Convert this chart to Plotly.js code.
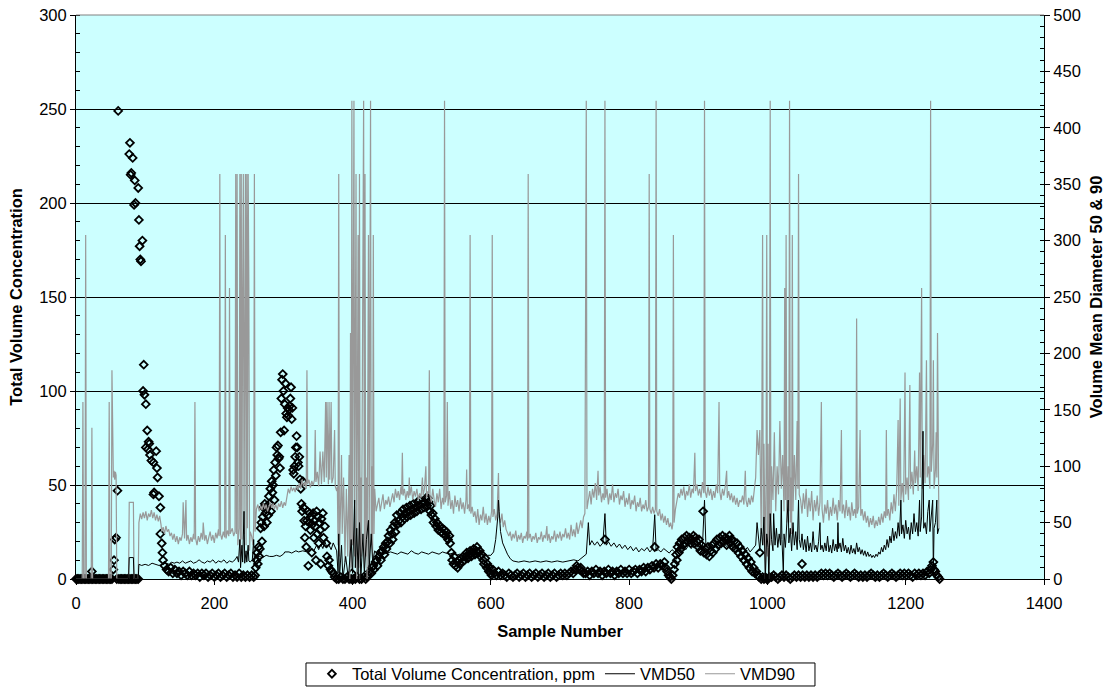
<!DOCTYPE html>
<html>
<head>
<meta charset="utf-8">
<script src="https://cdn.plot.ly/plotly-3.0.1.min.js"></script>
<style>html,body{margin:0;padding:0;background:#fff;}#chart{width:1111px;height:687px;}</style>
</head>
<body>
<div id="chart"></div>
<script>
// ---- Data ----
// Total Volume Concentration, ppm (left axis): [sample number, ppm]
const tvcPoints = [
[0,0],[2,0],[4,0],[6,0],[8,0],[10,0],[12,0],[14,0],[16,0],[18,0],[20,0],[22,0],[23,4],[24,0],[26,0],[28,0],[30,0],[32,0],[34,0],[36,0],[38,0],[40,0],[42,0],[44,0],[46,0],[48,0],[50,0],[52,0],[54,5],[55,10],[56,21],[58,22],[59,0],[60,47],[61,249],[62,0],[64,0],[66,0],[68,0],[70,0],[72,0],[74,0],[76,0],[78,0],[80,0],[82,0],[84,0],[86,0],[88,0],[90,0],
[77,226],[78,232],[79,215],[80,216],[82,224],[84,199],[85,212],[86,200],[90,208],[91,191],[92,177],[93,170],[94,169],[96,180],[97,100],[98,114],[99,98],[101,93],[101,70],[103,79],[104,69],[105,73],[106,72],[107,66],[109,63],[112,62],[113,46],[112,45],[116,68],[117,59],[118,54],[120,44],[122,38],[122,24],[124,19],[125,14],[126,10],
[128,7],[131,5],[134,4],[137,6],[140,3],[143,5],[146,3],[149,4],[152,2],[155,4],[158,3],[161,2],[164,4],[167,2],[170,3],[173,2],[176,3],[179,1],[182,3],[185,2],[188,3],[191,1],[194,2],[197,3],[200,1],[203,2],[206,3],[209,1],[212,2],[215,3],[218,1],[221,2],[224,3],[227,1],[230,2],[233,1],[236,3],[239,1],[242,2],[245,1],[248,2],[251,1],[254,2],[257,1],
[259,2],[260,6],[261,10],[262,14],[263,8],[264,17],[265,12],[266,16],[267,27],[268,30],[269,20],[270,33],[271,38],[272,28],[273,40],[274,35],[275,37],[276,30],[277,39],[278,34],[279,44],[280,40],[281,48],[282,36],[283,52],[284,46],[285,50],[286,58],[287,42],[288,62],[289,55],[290,70],[291,66],[292,71],[293,64],[294,65],[295,59],[296,78],[297,96],[298,106],[299,109],[300,100],[301,79],[302,93],[303,104],[304,88],[305,86],[306,91],[307,87],[308,90],[309,92],[310,96],[311,102],[312,85],[313,91],[314,58],[315,56],[316,60],[317,65],[318,70],[319,76],[320,70],[321,62],[322,60],[323,65],[324,53],[325,48],[326,40],[327,36],[328,52],[329,38],[330,31],[331,22],[332,28],[333,17],[334,31],[335,36],[336,7],[337,30],[338,35],[339,26],[340,33],[341,14],[342,29],[343,35],[344,22],[345,31],[346,28],[347,10],[348,36],[349,24],[350,33],[351,19],[352,30],[353,26],[354,8],[355,32],[357,35],[358,22],[360,28],[362,19],[363,12],[365,7],[366,10],[368,5],[370,4],[372,3],
[374,1],[377,0],[380,0],[383,1],[386,0],[389,0],[392,1],[395,0],[398,0],[399,3],[401,0],[404,0],[407,1],[410,0],[413,0],[416,1],[419,0],[421,1],
[423,2],[425,4],[427,3],[428,6],[430,7],[431,5],[433,9],[435,10],[436,7],[438,12],[440,14],[441,10],[443,15],[445,17],[446,13],[448,19],[449,16],[451,20],[452,23],[454,19],[455,26],[457,24],[458,21],[459,28],[461,30],[462,25],[464,34],[465,29],[467,31],[469,35],[470,30],[472,33],[473,37],[475,32],[476,35],[478,38],[479,33],[481,36],[483,39],[484,34],[486,37],[488,40],[489,35],[491,38],[493,36],[494,41],[496,39],[497,42],[499,37],[501,40],[503,38],[504,41],[506,43],[508,39],[509,43],[510,41],[512,36],[513,39],[514,34],[516,35],[517,30],[519,32],[521,28],[522,30],[524,26],[526,28],[528,25],[530,27],[531,24],[533,26],[535,23],[536,25],[538,21],[540,23],[541,19],[543,14],[544,10],[546,8],[547,12],[549,7],[551,9],[552,6],[554,10],[555,8],[557,11],[559,9],[560,12],[562,10],[564,12],[565,14],[567,11],[569,13],[570,15],[572,12],[574,14],[575,16],[577,13],[579,15],[580,17],[582,14],[584,15],[585,12],[587,13],[589,10],[590,8],[592,11],[594,6],[595,8],[597,4],[598,6],[600,3],[601,2],[603,5],
[605,3],[608,2],[611,4],[614,2],[617,3],[620,2],[623,1],[626,3],[629,2],[632,1],[635,2],[638,3],[641,1],[644,2],[647,3],[650,1],[653,2],[656,3],[659,1],[662,2],[665,3],[668,1],[671,2],[674,3],[677,1],[680,2],[683,3],[686,1],[689,2],[692,3],[695,1],[698,2],[701,3],[704,2],[707,3],[710,2],[713,3],[716,4],[719,3],[722,5],[724,7],[726,6],[728,5],[730,6],[732,4],[734,3],
[737,3],[740,4],[743,2],[746,4],[749,3],[752,5],[755,3],[758,4],[761,2],[764,4],[765,21],[767,3],[770,5],[773,3],[776,4],[779,2],[782,4],[785,3],[788,5],[791,3],[794,4],[797,3],[800,5],[803,3],[806,4],[809,5],[812,3],[815,5],[818,4],[821,6],[824,4],[827,6],[830,5],[833,7],[836,6],[837,17],[839,8],[842,6],[845,8],[848,7],[851,9],[853,6],[855,4],[857,2],[859,1],[861,0],[863,2],
[865,5],[866,8],[868,13],[869,10],[870,17],[872,14],[873,19],[875,16],[876,21],[878,18],[880,22],[881,19],[883,23],[885,20],[887,22],[889,19],[891,21],[893,23],[894,19],[896,22],[898,20],[900,17],[901,21],[903,15],[905,18],[907,36],[908,14],[910,16],[912,13],[914,17],[916,12],[918,15],[920,18],[921,14],[923,19],[925,16],[927,21],[929,18],[931,22],[933,19],[935,23],[937,20],[939,22],[941,18],[943,21],[945,23],[946,19],[948,21],[950,17],[952,20],[954,16],[956,19],[958,14],[960,17],[962,12],[964,15],[966,10],[968,13],[970,8],[972,11],[974,6],[976,9],[978,4],[980,6],[982,3],[984,4],[986,2],[988,1],[989,14],[991,0],[993,1],[995,0],[997,1],[999,0],[1001,0],[1003,1],
[1006,1],[1009,2],[1012,1],[1015,0],[1018,1],[1021,2],[1024,1],[1027,2],[1030,1],[1033,0],[1036,1],[1039,2],[1042,1],[1045,2],[1048,1],[1050,8],[1051,2],[1054,1],[1057,2],[1060,1],[1063,2],[1066,1],[1069,2],[1072,1],[1075,2],[1078,3],[1081,2],[1084,3],[1087,2],[1090,3],[1093,2],[1096,1],[1099,2],[1102,3],[1105,2],[1108,1],[1111,2],[1114,3],[1117,2],[1120,1],[1123,2],[1126,3],[1129,2],[1132,1],[1135,2],[1138,1],[1141,2],[1144,1],[1147,2],[1150,3],[1153,2],[1156,1],[1159,2],[1162,1],[1165,2],[1168,3],[1171,2],[1174,1],[1177,2],[1180,3],[1183,2],[1186,1],[1189,2],[1192,3],[1195,2],[1198,3],[1201,2],[1204,3],[1207,2],[1210,1],[1213,3],[1216,2],[1219,3],[1222,2],[1225,3],[1228,2],[1231,4],[1234,3],[1236,5],[1238,7],[1240,9],[1241,5],[1243,4],[1245,2],[1247,1],[1249,0]
];

// VMD50 (right axis): [sample number, diameter]
const vmd50Points = [
[0,0],[76,0],[77,19],[83,19],[84,0],[90,0],[91,13],[95,12],[100,13],[105,12],[110,14],[115,13],[120,12],[125,13],[130,14],[135,13],[138,15],[142,14],[146,15],[150,14],[154,16],[158,14],[162,15],[166,16],[170,14],[174,15],[178,17],[182,15],[186,14],[190,16],[194,15],[198,17],[202,14],[206,16],[210,15],[214,17],[218,14],[222,16],[226,15],[230,17],[233,20],[235,15],[237,35],[238,10],[240,30],[241,15],[243,60],[244,14],[246,25],[247,15],[249,30],[250,16],[252,15],[255,17],[257,35],[258,16],
[260,20],[265,20],[270,19],[275,21],[280,20],[285,20],[290,21],[295,20],[300,22],[302,24],[308,24],[312,23],[318,25],[322,24],[328,25],[334,24],[340,27],[344,25],[348,30],[351,26],[354,31],[357,27],[360,33],[363,28],[366,30],[369,26],[372,32],[375,28],[377,25],
[379,5],[380,40],[381,0],[384,30],[386,0],[390,20],[394,0],[398,35],[400,5],[402,60],[403,70],[404,10],[406,45],[408,5],[410,50],[412,0],[415,40],[417,5],[420,35],[423,52],[424,10],[427,40],[429,15],[432,25],[435,23],
[440,23],[445,22],[450,23],[455,24],[460,23],[465,22],[470,24],[475,23],[480,22],[485,25],[490,23],[495,22],[500,24],[505,23],[510,22],[515,24],[520,23],[525,22],[530,24],[535,23],[540,22],[545,23],[550,21],[555,22],[560,21],[565,22],[570,20],[575,21],[580,20],[585,21],[590,22],[595,21],[600,21],[604,24],[607,35],[610,55],[611,70],[612,60],[614,42],[617,32],[620,27],[624,22],[628,18],[632,16],
[640,15],[648,16],[656,15],[664,16],[672,15],[680,16],[688,15],[696,16],[704,15],[712,16],[720,17],[726,16],[730,18],[734,20],[738,22],
[741,50],[743,30],[746,34],[750,30],[754,33],[758,29],[762,32],[765,58],[767,30],[770,33],[774,29],[778,32],[782,28],[786,31],[790,27],[794,30],[798,26],[802,29],[806,25],[810,28],[814,24],[818,27],[822,25],[826,28],[830,24],[834,27],[837,57],[839,25],[842,26],[846,24],[850,27],[854,25],[858,23],[862,26],
[866,24],[870,28],[874,25],[878,29],[882,26],[886,30],[890,27],[894,31],[898,28],[902,32],[906,29],[909,70],[911,30],[915,27],[919,31],[923,28],[927,32],[931,29],[935,33],[939,30],[943,28],[947,31],[951,27],[955,30],[959,26],[963,29],[967,25],[971,28],[975,24],[979,27],[983,30],
[985,50],[987,35],[989,25],[991,45],[993,30],[995,55],[997,0],[999,40],[1001,28],[1002,0],[1004,58],[1006,35],[1008,25],[1009,58],[1011,30],[1013,45],[1015,28],[1017,40],[1019,30],[1020,70],[1021,35],[1023,5],[1024,40],[1026,28],[1028,48],[1030,70],[1031,32],[1033,45],[1035,25],[1037,50],[1039,30],[1041,42],[1043,26],[1045,70],[1046,35],
[1048,28],[1050,40],[1052,26],[1054,35],[1056,24],[1058,38],[1060,25],[1062,32],[1064,24],[1066,42],[1068,26],[1070,30],[1072,24],[1074,33],[1076,50],[1077,26],[1079,30],[1081,24],[1083,32],[1085,25],[1087,38],[1089,24],[1091,30],[1093,23],[1095,35],[1097,25],[1099,31],[1101,24],[1102,50],[1103,27],[1105,32],[1107,24],[1109,36],[1111,25],[1113,30],[1115,23],[1117,28],[1119,22],[1121,30],[1123,23],[1125,27],[1127,22],[1129,32],[1131,24],[1133,28],[1135,22],[1137,26],[1139,21],[1141,25],[1143,20],[1145,24],[1147,20],[1149,22],[1151,19],[1153,21],[1155,19],[1157,22],[1159,20],[1161,24],[1163,22],[1165,28],[1167,24],[1169,30],[1171,26],[1173,35],[1175,28],[1177,38],[1179,32],[1181,45],[1183,34],[1185,42],[1187,36],[1189,50],[1191,38],[1193,70],[1194,40],[1196,48],[1198,36],[1200,52],[1202,40],[1204,46],[1206,35],[1208,50],[1210,40],[1212,58],[1214,42],[1216,50],[1218,38],[1220,70],[1221,42],[1223,55],[1225,131],[1226,45],[1228,50],[1230,40],[1232,60],[1234,70],[1235,42],[1237,55],[1239,70],[1240,5],[1241,45],[1243,50],[1245,70],[1246,40],[1248,45]
];

// VMD90 (right axis): [sample number, diameter]
const vmd90Points = [
[0,0],[9,0],[10,157],[11,0],[13,0],[14,305],[15,0],[22,0],[23,134],[24,0],[47,0],[48,157],[49,0],[51,0],[52,185],[53,95],[54,90],[55,96],[56,88],[57,95],[58,92],[59,0],[76,0],[77,68],[83,68],[84,0],[90,0],[91,50],
[93,58],[95,53],[97,59],[99,54],[101,60],[103,52],[105,58],[107,55],[109,61],[111,54],[113,59],[115,52],[117,57],[119,51],[121,56],[123,48],[124,42],
[126,46],[128,40],[130,47],[132,42],[134,44],[136,38],[138,41],[140,35],[142,40],[144,33],[146,38],[148,31],[150,37],[152,34],[154,40],[155,68],[157,36],[159,70],[160,34],[162,39],[164,31],[166,37],[168,33],[170,40],[171,35],[172,157],[173,36],[175,30],[177,38],[179,33],[181,41],[183,35],[184,50],[186,34],[188,39],[190,31],[192,37],[194,42],[196,34],[198,39],[200,32],[202,41],[204,36],[206,44],[207,38],[208,359],[209,40],[211,35],[213,42],[215,37],[216,305],[217,36],[219,43],[221,38],[222,258],[223,40],[226,45],[228,38],[230,42],[231,359],[232,40],[233,359],[234,30],[236,45],[237,359],[238,20],[239,359],[240,35],[241,250],[242,359],[243,40],[244,200],[245,359],[246,30],[247,359],[248,45],[249,359],[250,258],[251,25],[252,42],[254,38],[256,30],[257,48],[258,359],[259,42],
[261,62],[263,66],[265,60],[267,65],[269,61],[271,67],[273,62],[275,66],[277,60],[279,64],[281,68],[283,63],[285,67],[287,62],[289,66],[291,61],[293,67],[295,64],[297,69],[299,63],[301,68],[303,65],[305,75],[307,80],[309,76],[311,82],[313,78],[315,81],[317,77],[319,83],[321,79],[323,85],[325,80],[327,88],[329,82],[331,86],[333,80],[334,185],[335,84],[337,88],[339,81],[341,87],[343,83],[345,88],[346,132],[347,86],[349,95],[351,82],[353,113],[355,84],[357,113],[359,86],[361,157],[362,90],[363,157],[365,84],[366,157],[367,88],[369,157],[370,85],[372,90],[374,132],[375,82],[377,78],
[378,82],[379,30],[380,359],[381,20],[383,75],[384,110],[385,40],[387,90],[389,15],[391,80],[393,20],[395,110],[396,0],[397,218],[398,10],[399,424],[400,30],[401,359],[402,424],[403,20],[404,150],[405,359],[406,0],[407,120],[408,305],[409,10],[410,359],[411,0],[412,90],[413,20],[414,130],[415,258],[416,424],[417,10],[418,359],[419,20],[420,90],[421,0],[422,150],[423,305],[424,10],[425,359],[426,424],[427,30],[428,100],[429,20],[430,305],[431,40],[432,80],[434,60],
[436,65],[438,72],[440,60],[442,68],[444,75],[446,62],[448,70],[450,66],[452,73],[454,64],[456,70],[458,76],[460,68],[462,80],[464,72],[466,78],[468,70],[470,82],[471,75],[472,112],[473,74],[475,80],[477,70],[479,78],[481,72],[482,90],[483,74],[485,82],[487,70],[489,78],[491,73],[493,80],[495,70],[497,76],[499,72],[501,90],[502,74],[504,80],[506,100],[507,72],[509,78],[510,76],[511,185],[512,74],[514,68],[516,80],[518,70],
[520,64],[522,76],[524,68],[526,80],[528,62],[530,72],[532,66],[533,424],[534,68],[536,74],[537,157],[538,65],[540,78],[542,62],[544,70],[546,58],[548,74],[550,64],[552,70],[554,60],[556,72],[558,62],[560,68],[562,58],[564,70],[565,97],[566,62],[568,66],[569,60],[570,305],[571,58],[573,64],[575,55],
[577,60],[579,50],[581,62],[583,48],[585,57],[587,52],[589,64],[591,50],[593,58],[595,48],[597,56],[599,50],[601,60],[602,305],[603,55],[605,62],[607,52],[609,58],[611,94],[612,55],[614,50],[616,58],[618,46],[620,52],[622,44],[624,40],
[626,38],[628,42],[630,34],[632,40],[634,36],[636,43],[638,33],[640,39],[642,35],[644,41],[646,32],[648,38],[650,36],[652,42],[653,34],[654,359],[655,36],[657,40],[659,33],[661,38],[663,35],[665,41],[667,32],[669,37],[671,35],[673,42],[675,33],[677,39],[679,36],[681,47],[682,34],[684,40],[686,32],[688,38],[690,35],[692,43],[694,33],[696,40],[698,36],[700,42],[702,34],[704,40],[706,37],[708,45],[710,36],[712,41],[714,35],[716,48],[718,38],[720,44],[722,37],[724,50],[726,40],[728,46],[730,52],[732,45],[734,55],[736,58],[737,305],[738,424],[739,62],
[741,70],[743,78],[745,66],[747,80],[749,72],[751,85],[753,70],[755,96],[756,74],[758,82],[760,68],[762,76],[764,70],[765,424],[766,72],[768,80],[770,66],[772,76],[774,70],[776,84],[778,68],[780,76],[782,72],[784,80],[786,66],[788,74],[790,70],[792,78],[794,64],[796,72],[798,66],[800,76],[802,62],[804,70],[806,66],[808,74],[810,60],[812,68],[814,64],[816,72],[818,60],[820,66],[822,62],[824,70],[826,60],[828,64],[829,359],[830,62],[832,58],[834,64],[836,58],[838,62],[839,424],[840,60],[842,56],[844,62],[846,52],[848,58],[850,50],[852,56],[854,48],[856,54],[858,46],[860,50],[862,44],[863,48],[864,305],[865,50],
[867,62],[869,70],[871,76],[873,72],[875,80],[877,74],[879,82],[881,70],[883,78],[885,74],[887,84],[889,72],[891,80],[893,76],[894,100],[895,112],[896,78],[898,84],[900,74],[902,80],[904,72],[906,86],[908,76],[909,424],[910,78],[912,72],[914,82],[916,74],[918,80],[920,70],[922,78],[924,72],[926,84],[928,76],[930,157],[931,78],[933,70],[935,80],[937,74],[939,82],[941,96],[942,72],[944,78],[946,70],[948,76],[950,68],[952,74],[954,66],[956,72],[958,64],[960,70],[962,68],[964,74],[966,66],[968,96],[969,70],[971,64],[973,72],[975,66],[977,74],[979,68],[981,80],[983,90],[985,132],[987,110],[989,132],[990,85],
[991,40],[992,150],[993,305],[994,30],[995,120],[996,60],[997,0],[998,90],[999,305],[1000,20],[1001,120],[1002,0],[1003,80],[1004,424],[1005,30],[1006,100],[1008,70],[1010,130],[1012,60],[1014,100],[1016,75],[1018,140],[1020,80],[1022,110],[1024,60],[1025,258],[1026,70],[1027,305],[1028,50],[1030,100],[1031,60],[1032,424],[1033,50],[1034,90],[1035,40],[1036,305],[1037,60],[1039,110],[1041,70],[1043,140],[1044,80],[1045,359],[1046,75],
[1048,70],[1050,58],[1052,76],[1054,62],[1056,80],[1058,55],[1060,72],[1062,60],[1064,78],[1066,52],[1068,70],[1070,60],[1072,74],[1074,56],[1076,68],[1078,157],[1079,62],[1081,50],[1083,66],[1085,58],[1087,70],[1089,52],[1091,64],[1093,56],[1095,72],[1097,58],[1099,66],[1101,52],[1103,70],[1105,60],[1107,132],[1108,58],[1110,66],[1112,54],[1114,70],[1116,56],[1118,64],[1120,52],[1122,68],[1124,56],[1126,62],[1128,54],[1129,231],[1130,58],[1132,64],[1134,132],[1135,56],[1137,62],[1139,52],[1141,60],[1143,50],[1145,56],[1147,46],[1149,54],[1151,48],[1153,56],[1155,45],[1157,52],[1159,47],[1161,55],[1163,48],[1165,58],[1167,50],[1169,60],[1171,54],[1172,132],[1173,56],[1175,62],[1177,52],[1179,68],[1181,58],[1183,75],[1185,60],[1187,80],[1189,141],[1190,65],[1192,160],[1193,70],[1195,85],[1197,68],[1199,183],[1200,75],[1202,90],[1204,70],[1206,172],[1207,80],[1209,95],[1211,75],[1213,114],[1214,85],[1216,100],[1218,78],[1220,183],[1221,90],[1223,258],[1224,80],[1226,110],[1228,85],[1230,194],[1231,90],[1233,100],[1235,80],[1236,424],[1237,95],[1239,120],[1240,194],[1241,80],[1243,97],[1244,130],[1245,90],[1246,218],[1247,70],[1248,45]
];

// Axis ticks
const xTicks = [0, 200, 400, 600, 800, 1000, 1200, 1400];
const leftTicks = [0, 50, 100, 150, 200, 250, 300];
const rightTicks = [0, 50, 100, 150, 200, 250, 300, 350, 400, 450, 500];

const seriesNames = ['Total Volume Concentration, ppm', 'VMD50', 'VMD90'];

// ---- Build traces ----
const xs = p => p.map(d => d[0]);
const ys = p => p.map(d => d[1]);
const FONT = 'Liberation Sans, Arial, sans-serif';
const TICK = 16.5, TITLE = 16.5;

const traces = [
  {
    name: seriesNames[0], x: xs(tvcPoints), y: ys(tvcPoints), yaxis: 'y',
    type: 'scatter', mode: 'markers', cliponaxis: false, legendrank: 1,
    marker: {symbol: 'diamond-open', size: 6, color: '#000000', line: {color: '#000000', width: 1.8}}
  },
  {
    name: seriesNames[2], x: xs(vmd90Points), y: ys(vmd90Points), yaxis: 'y2',
    type: 'scatter', mode: 'lines', legendrank: 3,
    line: {color: '#999999', width: 1.2}
  },
  {
    name: seriesNames[1], x: xs(vmd50Points), y: ys(vmd50Points), yaxis: 'y2',
    type: 'scatter', mode: 'lines', legendrank: 2,
    line: {color: '#000000', width: 1}
  }
];

const layout = {
  width: 1111, height: 687,
  margin: {l: 76, r: 67, t: 15, b: 108, autoexpand: false},
  paper_bgcolor: '#ffffff', plot_bgcolor: '#CCFFFF',
  font: {family: FONT, size: TICK, color: '#000000'},
  showlegend: true,
  legend: {
    orientation: 'h', x: 0.4963, xanchor: 'center', y: -0.1685, yanchor: 'middle',
    bgcolor: 'rgba(0,0,0,0)', borderwidth: 0,
    font: {family: FONT, size: TICK, color: '#000000'}, itemwidth: 30, tracegroupgap: 0
  },
  xaxis: {
    range: [0, 1400], tickvals: xTicks, ticktext: xTicks.map(String),
    showgrid: false, zeroline: false, showline: true, linecolor: '#000000', linewidth: 1,
    ticks: 'outside', ticklen: 5, tickcolor: '#000000', ticklabelstandoff: 4,
    tickfont: {family: FONT, size: TICK},
    title: {text: '<b>Sample Number</b>', font: {family: FONT, size: TITLE}, standoff: 14}
  },
  yaxis: {
    range: [0, 300], tickvals: leftTicks, ticktext: leftTicks.map(String),
    showgrid: true, gridcolor: '#000000', gridwidth: 1, zeroline: false,
    showline: true, linecolor: '#000000', linewidth: 1,
    ticks: 'outside', ticklen: 5, tickcolor: '#000000',
    minor: {dtick: 10, ticks: 'inside', ticklen: 4, tickcolor: '#000000', showgrid: false},
    tickfont: {family: FONT, size: TICK},
    title: {text: '<b>Total Volume Concentration</b>', font: {family: FONT, size: TITLE}, standoff: 12}
  },
  yaxis2: {
    range: [0, 500], overlaying: 'y', side: 'right', tickvals: rightTicks, ticktext: rightTicks.map(String),
    showgrid: false, zeroline: false, showline: true, linecolor: '#000000', linewidth: 1,
    ticks: 'outside', ticklen: 5, tickcolor: '#000000',
    minor: {dtick: 10, ticks: 'inside', ticklen: 4, tickcolor: '#000000', showgrid: false},
    tickfont: {family: FONT, size: TICK},
    title: {text: '<b>Volume Mean Diameter 50 &amp; 90</b>', font: {family: FONT, size: TITLE}, standoff: 10}
  },
  shapes: [
    {type: 'line', xref: 'paper', yref: 'paper', x0: 0, x1: 1, y0: 1, y1: 1, line: {color: '#808080', width: 1}},
    {type: 'rect', xref: 'paper', yref: 'paper', x0: 0.2376, x1: 0.7634, y0: -0.1897, y1: -0.1489,
     line: {color: '#000000', width: 1}, fillcolor: 'rgba(0,0,0,0)'}
  ]
};

Plotly.newPlot('chart', traces, layout, {displayModeBar: false, staticPlot: true});
</script>
</body>
</html>
